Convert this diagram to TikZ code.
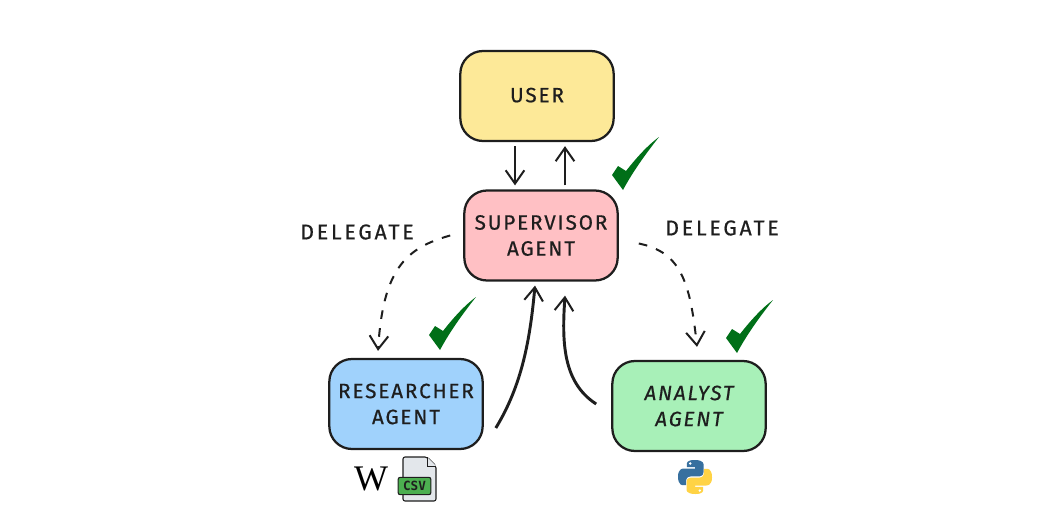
\documentclass[tikz,border=0pt]{standalone}
\usepackage{fontspec}
\setmainfont{Fira Sans}[FakeBold=0.6]
\newfontfamily\csvfont{DejaVu Sans Mono}
\newfontfamily\wikifont{Liberation Serif}
\usetikzlibrary{arrows.meta,calc}
\definecolor{inkc}{HTML}{1E1E1E}
\definecolor{userc}{HTML}{FDE998}
\definecolor{supc}{HTML}{FFC0C4}
\definecolor{resc}{HTML}{A0D2FC}
\definecolor{anac}{HTML}{A8F0B8}
\definecolor{chk}{HTML}{006F18}
\definecolor{pyb}{HTML}{37709F}
\definecolor{pyy}{HTML}{FFD345}
\definecolor{csvg}{HTML}{4CAF50}
\definecolor{filec}{HTML}{E3E7EB}
\tikzset{
 x=0.75pt,y=-0.75pt,
 agent/.style={draw=inkc,line width=1.7pt,rounded corners=17pt,minimum width=115pt,minimum height=67.5pt,inner sep=0pt,align=center,text=inkc},
 agenttext/.style={font=\fontsize{15.5}{19.5}\selectfont\addfontfeature{LetterSpace=9}},
 lab/.style={font=\fontsize{16}{18}\selectfont\addfontfeature{LetterSpace=13},text=inkc,inner sep=0pt},
 arr/.style={draw=inkc,line width=1.5pt,-{Straight Barb[length=10pt,width=14pt,line width=1.5pt]}},
 arrb/.style={draw=inkc,line width=2.2pt,-{Straight Barb[length=10pt,width=14pt,line width=1.5pt]}},
 dashy/.style={arr,dash pattern=on 6.5pt off 7pt},
 check/.pic={\fill[chk] (0,0) .. controls (-11,8) and (-22,20) .. (-33,34) -- (-41,29) -- (-47,38) -- (-36,53) .. controls (-29,40) and (-19,24) .. (0,0) -- cycle;},
 pylogo/.pic={\begin{scope}[x=0.255pt,y=-0.255pt]
   \fill[pyb] (49,0) .. controls (25,0) and (26,10) .. (26,10) -- (26,21) -- (50,21) -- (50,25) -- (17,25) .. controls (17,25) and (0,23) .. (0,49) .. controls (0,75) and (14,74) .. (14,74) -- (24,74) -- (24,62) .. controls (24,62) and (23,48) .. (38,48) -- (62,48) .. controls (62,48) and (75,48) .. (75,36) -- (75,13) .. controls (75,13) and (77,0) .. (49,0) -- cycle;
   \fill[white] (36,10) circle (4);
   \fill[pyy] (51,100) .. controls (75,100) and (74,90) .. (74,90) -- (74,79) -- (50,79) -- (50,75) -- (83,75) .. controls (83,75) and (100,77) .. (100,51) .. controls (100,25) and (86,26) .. (86,26) -- (76,26) -- (76,38) .. controls (76,38) and (77,52) .. (62,52) -- (38,52) .. controls (38,52) and (25,52) .. (25,64) -- (25,87) .. controls (25,87) and (23,100) .. (51,100) -- cycle;
   \fill[white] (64,90) circle (4);
 \end{scope}}
}
\begin{document}
\begin{tikzpicture}
\useasboundingbox (0,0) rectangle (1062,528);
\node[agent,fill=userc,agenttext] (user) at (537,96) {\raisebox{1.5pt}{USER}};
\node[agent,fill=supc,agenttext] (sup) at (541,235.5) {SUPERVISOR\\AGENT};
\node[agent,fill=resc,agenttext] (res) at (406,404) {RESEARCHER\\AGENT};
\node[agent,fill=anac,font=\fontsize{15.5}{19.5}\selectfont\itshape\addfontfeature{LetterSpace=9}] (ana) at (689,406) {ANALYST\\AGENT};
\node[lab] (d1) at (357,232) {DELEGATE};
\node[lab] (d2) at (722,228) {DELEGATE};
% connectors
\draw[arr] ($(user.south)+(-22,4)$) -- ($(sup.north)+(-26,-4)$);
\draw[arr] ($(sup.north)+(24,-4)$) -- ($(user.south)+(28,4)$);
\draw[dashy] ($(sup.west)+(-13,0)$) .. controls (405,248) and (383,270) .. ($(res.north)+(-28,-7)$);
\draw[dashy] ($(sup.east)+(20,8)$) .. controls (680,252) and (690,280) .. ($(ana.north)+(8,-13)$);
\draw[arrb] ($(res.east)+(12,24)$) .. controls (522,385) and (530,340) .. ($(sup.south)+(-6,4)$);
\draw[arrb] ($(ana.west)+(-15,-2)$) .. controls (562,382) and (562,340) .. ($(sup.south)+(24,14)$);
% checks
\pic at (659,137) {check};
\pic at (476,297) {check};
\pic at (773,300) {check};
% wiki
\node[inner sep=0pt,text=black,font=\fontsize{27}{27}\wikifont] (wiki) at (371,479) {W};
% csv file
\draw[draw=inkc,line width=0.8pt,fill=filec,rounded corners=1.5pt] (403,457) -- (427,457) -- (436,466) -- (436,501) -- (403,501) -- cycle;
\draw[draw=inkc,line width=0.6pt,fill=filec] (427,457) -- (427,466) -- (436,466);
\node[draw=inkc,line width=0.8pt,fill=csvg,rounded corners=1.5pt,minimum width=24.5pt,minimum height=13pt,inner sep=0pt,font=\fontsize{9.5}{9.5}\csvfont\bfseries,text=inkc] (csv) at (414.5,486) {CSV};
% python
\pic at (678,460) {pylogo};
\end{tikzpicture}
\end{document}
